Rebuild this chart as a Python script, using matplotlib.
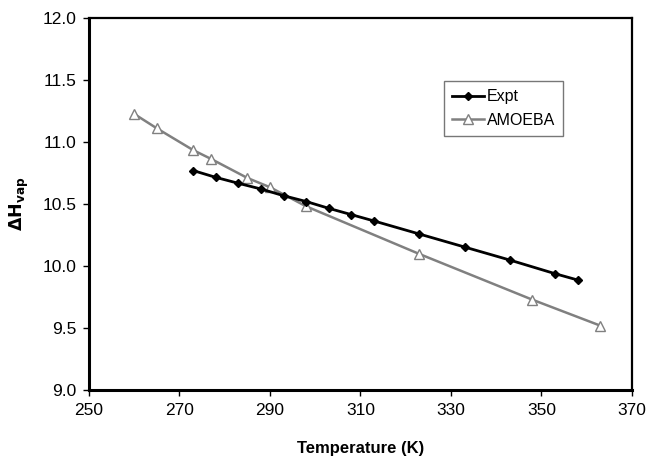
import matplotlib
matplotlib.use('Agg')
import matplotlib.pyplot as plt

# data
expt_T = [273, 278, 283, 288, 293, 298, 303, 308, 313, 323, 333, 343, 353, 358]
expt_H = [10.77, 10.715, 10.667, 10.621, 10.567, 10.52, 10.465, 10.414, 10.363,
          10.258, 10.153, 10.048, 9.938, 9.887]

amoeba_T = [260, 265, 273, 277, 285, 290, 298, 323, 348, 363]
amoeba_H = [11.226, 11.11, 10.935, 10.863, 10.71, 10.635, 10.481, 10.097, 9.728, 9.519]

x_ticks = [250, 270, 290, 310, 330, 350, 370]
y_ticks = [9.0, 9.5, 10.0, 10.5, 11.0, 11.5, 12.0]

plt.rcParams['font.family'] = ['Liberation Sans', 'DejaVu Sans']

fig = plt.figure(figsize=(6.48, 4.61), dpi=100)
ax = fig.add_axes([0.1373, 0.154, 0.8380, 0.807])

ax.plot(expt_T, expt_H, color='black', lw=2, marker='D', ms=4.5,
        mfc='black', mec='black', label='Expt', zorder=3)
ax.plot(amoeba_T, amoeba_H, color='#808080', lw=1.8, marker='^', ms=7,
        mfc='white', mec='#808080', mew=1.0, label='AMOEBA', zorder=2)

ax.set_xlim(250, 370)
ax.set_ylim(9.0, 12.0)
ax.set_xticks(x_ticks)
ax.set_yticks(y_ticks)
ax.set_yticklabels([f'{v:.1f}' for v in y_ticks])

for side in ['left', 'bottom']:
    ax.spines[side].set_linewidth(2.2)
for side in ['top', 'right']:
    ax.spines[side].set_linewidth(1.6)

ax.tick_params(direction='out', length=4, width=1, labelsize=12.5, pad=5,
               top=False, right=False)

ax.set_xlabel('Temperature (K)', fontsize=12, fontweight='bold', labelpad=17)
ax.set_ylabel(r'$\mathbf{\Delta H_{vap}}$', fontsize=12.5, labelpad=8)

leg = ax.legend(loc='upper left', bbox_to_anchor=(0.6535, 0.83), fontsize=11.5,
                frameon=True, fancybox=False, edgecolor='#555555',
                handlelength=2.0, handletextpad=0.2, borderpad=0.5,
                labelspacing=0.55, borderaxespad=0)
leg.get_frame().set_linewidth(1.0)

fig.savefig('out.png', dpi=100)
